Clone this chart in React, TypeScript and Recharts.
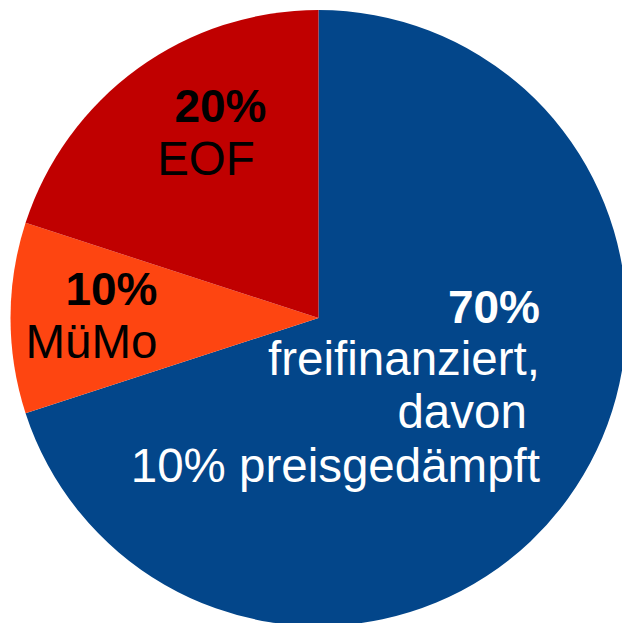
import React from 'react';
import { PieChart, Pie, Cell } from 'recharts';

const categories = ['freifinanziert', 'MüMo', 'EOF'];
const shares = [70, 10, 20];
const sliceColors = ['#03468A', '#FE4511', '#C00000'];
const labelLines = [
  ['70%', 'freifinanziert,', 'davon ', '10% preisgedämpft'],
  ['10%', 'MüMo'],
  ['20%', 'EOF'],
];
const boldLine = [0, 0, 0];
const textColors = ['#FFFFFF', '#000000', '#000000'];

// layout: offsets of each label line relative to pie center
const labelLayout = [
  [
    { dx: 221.5, dy: 5, anchor: 'end' },
    { dx: 221.5, dy: 57, anchor: 'end' },
    { dx: 221.5, dy: 110, anchor: 'end' },
    { dx: 221.5, dy: 164, anchor: 'end' },
  ],
  [
    { dx: -161, dy: -13, anchor: 'end' },
    { dx: -161, dy: 40, anchor: 'end' },
  ],
  [
    { dx: -98, dy: -196, anchor: 'middle' },
    { dx: -112.5, dy: -143, anchor: 'middle' },
  ],
];

const data = categories.map((name, i) => ({ name, value: shares[i] }));

const renderLabel = (props: any) => {
  const { cx, cy, index } = props;
  const lines = labelLines[index];
  return (
    <g>
      {lines.map((t, j) => {
        const l = labelLayout[index][j];
        const bold = j === boldLine[index];
        return (
          <text
            key={j}
            x={cx + l.dx}
            y={cy + l.dy}
            textAnchor={l.anchor}
            fill={textColors[index]}
            fontSize={bold ? 46 : 47.5}
            fontWeight={bold ? 'bold' : 'normal'}
            fontFamily='"Liberation Sans", Arial, sans-serif'
            style={{ whiteSpace: 'pre' }}
          >
            {t}
          </text>
        );
      })}
    </g>
  );
};

export default function App() {
  return (
    <div style={{ position: 'absolute', left: 0, top: 0, width: 622, height: 623, overflow: 'hidden' }}>
      <PieChart width={622} height={623} margin={{ top: 0, right: 0, bottom: 0, left: 0 }}>
        <Pie
          data={data}
          dataKey="value"
          nameKey="name"
          cx={318.5}
          cy={318}
          outerRadius={308}
          startAngle={90}
          endAngle={-270}
          stroke="none"
          labelLine={false}
          label={renderLabel}
          isAnimationActive={false}
        >
          {data.map((d, i) => (
            <Cell key={d.name} fill={sliceColors[i]} />
          ))}
        </Pie>
      </PieChart>
    </div>
  );
}
